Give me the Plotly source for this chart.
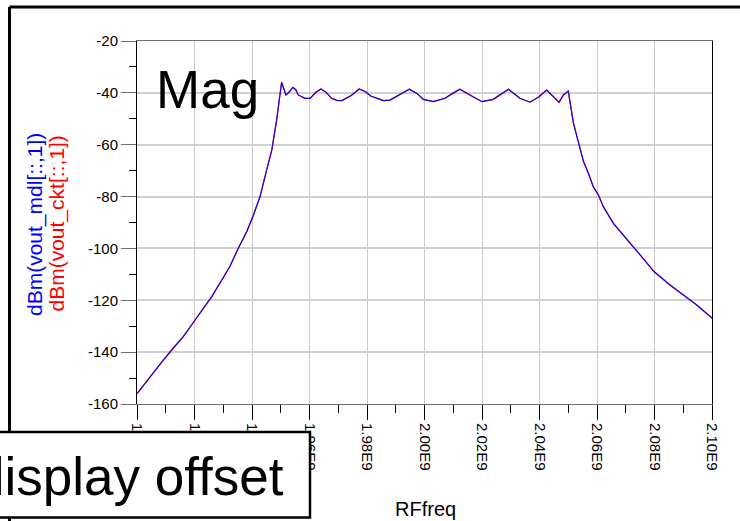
import plotly.graph_objects as go

# Swept RF frequency (Hz) and output power (dBm) of the band-pass response
rf_freq = [
    1.9001e9, 1.9045e9, 1.9092e9, 1.9126e9, 1.9161e9, 1.9202e9, 1.9231e9,
    1.9260e9, 1.9295e9, 1.9323e9, 1.9352e9, 1.9382e9, 1.9405e9, 1.9428e9,
    1.9451e9, 1.9469e9, 1.9486e9, 1.9503e9, 1.9518e9, 1.9530e9, 1.9542e9,
    1.9552e9, 1.9561e9, 1.9584e9, 1.9602e9, 1.9622e9, 1.9640e9, 1.9658e9,
    1.9677e9, 1.9695e9, 1.9712e9, 1.9745e9, 1.9773e9, 1.9795e9, 1.9813e9,
    1.9857e9, 1.9880e9, 1.9915e9, 1.9947e9, 1.9975e9, 1.9996e9, 2.0031e9,
    2.0071e9, 2.0098e9, 2.0123e9, 2.0158e9, 2.0200e9, 2.0239e9, 2.0268e9,
    2.0292e9, 2.0315e9, 2.0332e9, 2.0367e9, 2.0396e9, 2.0425e9, 2.0448e9,
    2.0468e9, 2.0483e9, 2.0500e9, 2.0518e9, 2.0541e9, 2.0553e9, 2.0570e9,
    2.0587e9, 2.0605e9, 2.0622e9, 2.0657e9, 2.0680e9, 2.0715e9, 2.0750e9,
    2.0799e9, 2.0854e9, 2.0900e9, 2.0947e9, 2.1001e9,
]
dbm_vout_mdl = [
    -155.9, -149.5, -143.0, -138.5, -134.0, -127.6, -123.1,
    -118.6, -112.2, -107.0, -100.0, -93.5, -87.1, -80.0,
    -69.7, -62.0, -50.2, -35.9, -40.8, -39.6, -37.9,
    -38.8, -40.8, -42.1, -42.1, -39.8, -38.5, -39.8,
    -42.1, -42.9, -43.0, -41.0, -38.5, -39.6, -41.2,
    -43.0, -42.8, -40.5, -38.6, -40.3, -42.5, -43.4,
    -42.1, -40.2, -38.6, -40.8, -43.4, -42.5, -40.3,
    -38.6, -40.6, -42.1, -43.6, -41.7, -38.9, -41.6,
    -43.6, -40.8, -39.3, -51.7, -62.0, -66.5, -71.0,
    -76.2, -79.4, -83.9, -90.3, -93.5, -98.0, -102.5,
    -109.0, -114.1, -118.0, -121.8, -126.9,
]
dbm_vout_ckt = list(dbm_vout_mdl)

x_tick_vals = [1.90e9, 1.92e9, 1.94e9, 1.96e9, 1.98e9, 2.00e9,
               2.02e9, 2.04e9, 2.06e9, 2.08e9, 2.10e9]
x_tick_text = ["1.90E9", "1.92E9", "1.94E9", "1.96E9", "1.98E9", "2.00E9",
               "2.02E9", "2.04E9", "2.06E9", "2.08E9", "2.10E9"]
y_tick_vals = [-160, -140, -120, -100, -80, -60, -40, -20]
y_tick_text = ["-160", "-140", "-120", "-100", "-80", "-60", "-40", "-20"]

W, H = 740, 521
ML, MR, MT, MB = 137, 28, 41, 117
PW, PH = W - ML - MR, H - MT - MB


def px(x):
    return (x - ML) / PW


def py(y):
    return (H - MB - y) / PH


FONT = "Liberation Sans, Arial, sans-serif"

fig = go.Figure()
fig.add_trace(go.Scatter(x=rf_freq, y=dbm_vout_ckt, mode="lines",
                         line=dict(color="#ff0000", width=1.2),
                         name="dBm(vout_ckt[::,1])"))
fig.add_trace(go.Scatter(x=rf_freq, y=dbm_vout_mdl, mode="lines",
                         line=dict(color="#0000ff", width=1.2), opacity=0.88,
                         name="dBm(vout_mdl[::,1])"))

fig.update_layout(
    width=W, height=H, autosize=False,
    margin=dict(l=ML, r=MR, t=MT, b=MB, pad=0),
    paper_bgcolor="white", plot_bgcolor="white",
    showlegend=False,
    font=dict(family=FONT, color="black", size=15),
)

fig.update_xaxes(
    range=[1.9e9, 2.1e9], tickvals=x_tick_vals, ticktext=x_tick_text,
    tickangle=90, ticks="outside", ticklen=15, tickcolor="black", tickwidth=1,
    tickfont=dict(family=FONT, size=15, color="black"),
    showgrid=True, gridcolor="#c8c8c8", gridwidth=1,
    showline=True, linecolor="#707070", linewidth=1, mirror=True,
    zeroline=False,
    minor=dict(dtick=1e7, tick0=1.9e9, ticks="outside", ticklen=8,
               tickcolor="black", showgrid=False),
)
fig.update_yaxes(
    range=[-160, -20], tickvals=y_tick_vals, ticktext=y_tick_text,
    ticks="outside", ticklen=15, tickcolor="#707070", tickwidth=1,
    tickfont=dict(family=FONT, size=15, color="black"),
    showgrid=True, gridcolor="#d0d0d0", gridwidth=1.5,
    showline=True, linecolor="black", linewidth=1, mirror=True,
    zeroline=False,
    minor=dict(dtick=10, tick0=-160, ticks="outside", ticklen=7,
               tickcolor="black", showgrid=False),
)

# Outer frame edges (top and left)
fig.add_shape(type="line", xref="paper", yref="paper",
              x0=px(9.5), y0=py(7), x1=px(760), y1=py(7),
              line=dict(color="black", width=3), layer="above")
fig.add_shape(type="line", xref="paper", yref="paper",
              x0=px(9.5), y0=py(7), x1=px(9.5), y1=py(540),
              line=dict(color="black", width=3), layer="above")

# Offset box at bottom-left
fig.add_shape(type="rect", xref="paper", yref="paper",
              x0=px(-10), y0=py(517.5), x1=px(310), y1=py(432),
              line=dict(color="black", width=2.5), fillcolor="white",
              layer="above")

fig.add_annotation(xref="paper", yref="paper", x=px(286), y=py(476),
                   xanchor="right", yanchor="middle", showarrow=False,
                   text="display offset",
                   font=dict(family=FONT, size=53, color="black"))

fig.add_annotation(xref="paper", yref="paper", x=px(154), y=py(89),
                   xanchor="left", yanchor="middle", showarrow=False,
                   text="Mag",
                   font=dict(family=FONT, size=53, color="black"))

fig.add_annotation(xref="paper", yref="paper", x=px(425), y=py(509),
                   xanchor="center", yanchor="middle", showarrow=False,
                   text="RFfreq",
                   font=dict(family=FONT, size=20, color="black"))

# Trace names as the y-axis title, one line per trace
fig.add_annotation(xref="paper", yref="paper", x=px(35), y=py(225),
                   xanchor="center", yanchor="middle", showarrow=False,
                   textangle=-90, text="dBm(vout_mdl[::,1])",
                   font=dict(family=FONT, size=21, color="#0000ff"))
fig.add_annotation(xref="paper", yref="paper", x=px(56.5), y=py(223),
                   xanchor="center", yanchor="middle", showarrow=False,
                   textangle=-90, text="dBm(vout_ckt[::,1])",
                   font=dict(family=FONT, size=21, color="#ff0000"))

fig.write_html("out.html")
